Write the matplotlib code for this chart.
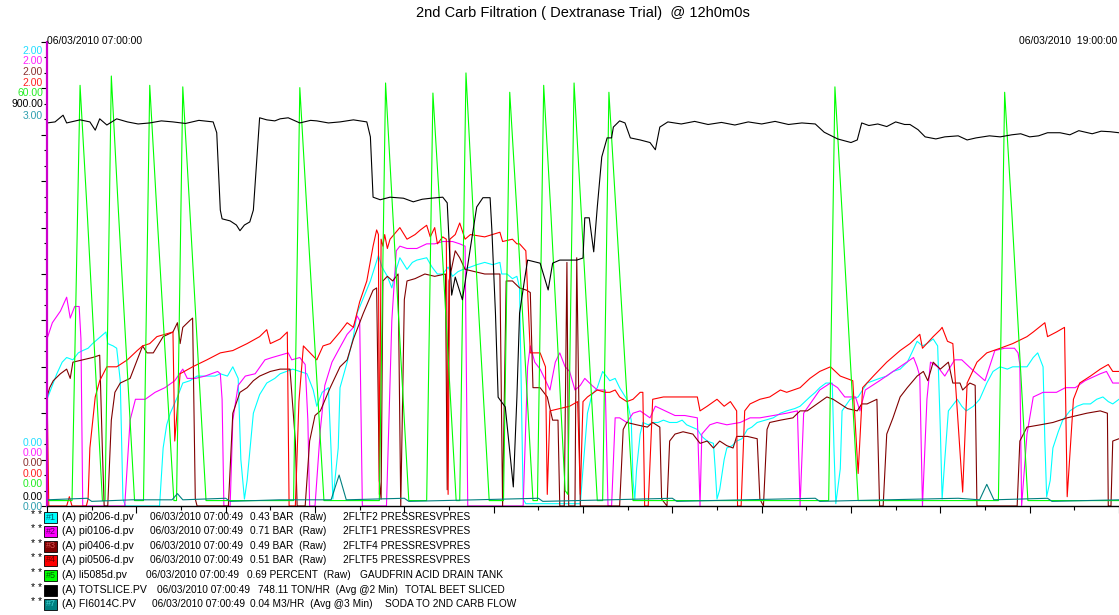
import numpy as np
import matplotlib
matplotlib.use("Agg")
import matplotlib.pyplot as plt
from matplotlib.patches import Rectangle
from matplotlib.ticker import MultipleLocator

plt.rcParams['font.family'] = ['Liberation Sans', 'DejaVu Sans']

W, H = 1119, 615

# time in hours after 06/03/2010 07:00:00, values in pen units
pi0206 = [(0.00,0.46),(0.06,0.52),(0.11,0.57),(0.17,0.62),(0.22,0.64),(0.29,0.63),(0.35,0.66),(0.40,0.67),(0.46,0.68),(0.51,0.70),(0.57,0.72),(0.63,0.74),(0.66,0.75),(0.68,0.70),(0.74,0.69),(0.78,0.68),(0.82,0.54),(0.85,0.03),(0.88,0.00),(1.26,0.00),(1.30,0.25),(1.34,0.35),(1.38,0.40),(1.46,0.47),(1.52,0.53),(1.60,0.54),(1.68,0.56),(1.79,0.56),(1.88,0.56),(1.94,0.57),(2.02,0.56),(2.08,0.60),(2.14,0.55),(2.17,0.20),(2.21,0.03),(2.24,0.11),(2.31,0.40),(2.38,0.48),(2.46,0.53),(2.55,0.55),(2.61,0.57),(2.75,0.59),(2.83,0.58),(2.91,0.57),(2.98,0.50),(3.02,0.43),(3.08,0.49),(3.15,0.51),(3.18,0.24),(3.20,0.03),(3.22,0.10),(3.26,0.25),(3.28,0.51),(3.36,0.62),(3.43,0.73),(3.47,0.83),(3.62,0.97),(3.71,1.08),(3.75,1.03),(3.81,0.99),(3.86,0.94),(3.91,1.02),(3.95,1.07),(4.03,1.02),(4.09,1.05),(4.14,1.06),(4.25,1.07),(4.31,1.03),(4.37,1.00),(4.43,1.00),(4.49,1.03),(4.54,0.99),(4.60,1.01),(4.66,1.02),(4.74,1.03),(4.81,1.04),(4.90,1.05),(4.99,1.04),(5.07,1.05),(5.09,1.00),(5.15,1.00),(5.21,0.98),(5.26,0.99),(5.29,0.94),(5.33,0.03),(5.36,0.01),(5.97,0.01),(6.00,0.16),(6.05,0.40),(6.10,0.48),(6.16,0.51),(6.22,0.58),(6.30,0.54),(6.36,0.55),(6.41,0.51),(6.49,0.46),(6.54,0.37),(6.56,0.11),(6.58,0.03),(6.60,0.16),(6.64,0.31),(6.67,0.36),(6.73,0.35),(6.78,0.36),(6.84,0.36),(6.90,0.37),(6.97,0.36),(7.05,0.36),(7.11,0.37),(7.16,0.35),(7.22,0.34),(7.28,0.33),(7.33,0.30),(7.39,0.28),(7.46,0.27),(7.48,0.16),(7.50,0.03),(7.53,0.07),(7.58,0.20),(7.61,0.25),(7.67,0.26),(7.72,0.28),(7.78,0.29),(7.84,0.33),(7.89,0.34),(7.95,0.36),(8.04,0.37),(8.13,0.38),(8.21,0.40),(8.28,0.41),(8.37,0.42),(8.43,0.43),(8.54,0.47),(8.60,0.49),(8.65,0.51),(8.72,0.53),(8.79,0.53),(8.81,0.24),(8.83,0.01),(8.88,0.16),(8.90,0.41),(8.99,0.46),(9.08,0.47),(9.13,0.50),(9.18,0.53),(9.25,0.54),(9.32,0.55),(9.40,0.56),(9.47,0.58),(9.55,0.59),(9.63,0.62),(9.68,0.66),(9.74,0.71),(9.80,0.69),(9.85,0.70),(9.92,0.72),(9.97,0.69),(10.00,0.33),(10.02,0.03),(10.05,0.20),(10.09,0.41),(10.19,0.46),(10.24,0.43),(10.29,0.41),(10.37,0.43),(10.44,0.46),(10.52,0.53),(10.59,0.58),(10.67,0.60),(10.75,0.59),(10.81,0.60),(10.89,0.60),(10.97,0.60),(11.04,0.64),(11.09,0.66),(11.15,0.60),(11.17,0.28),(11.19,0.04),(11.23,0.11),(11.26,0.25),(11.32,0.32),(11.37,0.37),(11.45,0.41),(11.53,0.43),(11.60,0.44),(11.68,0.44),(11.75,0.46),(11.82,0.47),(11.88,0.45),(11.93,0.44),(12.00,0.46)]

pi0106 = [(0.00,0.72),(0.06,0.79),(0.15,0.84),(0.22,0.90),(0.26,0.81),(0.31,0.86),(0.36,0.86),(0.38,0.72),(0.40,0.00),(0.87,0.00),(0.93,0.37),(0.99,0.46),(1.10,0.46),(1.21,0.49),(1.32,0.51),(1.43,0.54),(1.52,0.59),(1.57,0.55),(1.66,0.55),(1.77,0.56),(1.91,0.58),(1.94,0.57),(1.96,0.46),(1.98,0.00),(2.05,0.00),(2.08,0.37),(2.14,0.52),(2.22,0.56),(2.33,0.57),(2.44,0.63),(2.52,0.64),(2.61,0.65),(2.70,0.66),(2.74,0.63),(2.83,0.64),(2.89,0.61),(2.92,0.37),(2.94,0.00),(3.00,0.00),(3.06,0.33),(3.11,0.52),(3.19,0.62),(3.26,0.67),(3.36,0.74),(3.43,0.77),(3.47,0.82),(3.50,0.80),(3.53,0.00),(3.80,0.00),(3.86,0.80),(3.91,1.10),(3.95,1.12),(4.03,1.11),(4.14,1.11),(4.25,1.13),(4.34,1.13),(4.43,1.14),(4.54,1.14),(4.62,1.13),(4.68,1.12),(4.71,0.00),(5.33,0.00),(5.38,0.60),(5.41,0.69),(5.46,0.62),(5.52,0.59),(5.57,0.55),(5.63,0.50),(5.69,0.62),(5.74,0.66),(5.80,0.60),(5.85,0.58),(5.91,0.50),(5.97,0.52),(6.02,0.55),(6.10,0.52),(6.16,0.50),(6.20,0.50),(6.25,0.50),(6.28,0.00),(6.32,0.00),(6.36,0.38),(6.41,0.38),(6.49,0.36),(6.56,0.40),(6.64,0.41),(6.75,0.38),(6.81,0.43),(6.92,0.41),(7.03,0.39),(7.14,0.39),(7.28,0.38),(7.31,0.00),(7.33,0.31),(7.42,0.35),(7.50,0.36),(7.61,0.35),(7.76,0.36),(7.87,0.38),(7.98,0.38),(8.13,0.39),(8.28,0.40),(8.40,0.41),(8.43,0.00),(8.47,0.40),(8.56,0.45),(8.65,0.50),(8.77,0.53),(8.85,0.51),(8.93,0.47),(9.05,0.47),(9.10,0.41),(9.16,0.50),(9.32,0.54),(9.51,0.59),(9.70,0.64),(9.74,0.60),(9.77,0.56),(9.80,0.00),(9.85,0.46),(9.89,0.62),(9.97,0.60),(10.05,0.56),(10.16,0.63),(10.24,0.63),(10.35,0.59),(10.50,0.54),(10.61,0.67),(10.72,0.68),(10.83,0.68),(10.87,0.66),(10.89,0.61),(10.91,0.00),(10.97,0.31),(11.04,0.47),(11.15,0.49),(11.30,0.49),(11.40,0.51),(11.51,0.51),(11.62,0.54),(11.79,0.57),(11.86,0.58),(11.93,0.53),(12.00,0.53)]

pi0406 = [(0.00,0.47),(0.03,0.51),(0.07,0.54),(0.15,0.57),(0.22,0.59),(0.26,0.55),(0.29,0.62),(0.40,0.63),(0.51,0.64),(0.59,0.65),(0.62,0.24),(0.64,0.00),(0.68,0.00),(0.72,0.37),(0.76,0.49),(0.82,0.53),(0.93,0.55),(1.04,0.66),(1.07,0.69),(1.12,0.66),(1.19,0.66),(1.30,0.73),(1.41,0.75),(1.46,0.79),(1.49,0.70),(1.52,0.77),(1.60,0.80),(1.63,0.81),(1.66,0.03),(1.68,0.00),(2.03,0.00),(2.08,0.40),(2.16,0.49),(2.24,0.51),(2.31,0.54),(2.38,0.56),(2.50,0.58),(2.61,0.59),(2.72,0.59),(2.78,0.28),(2.80,0.00),(2.89,0.00),(2.94,0.28),(3.00,0.39),(3.06,0.41),(3.17,0.51),(3.28,0.60),(3.36,0.63),(3.43,0.72),(3.54,0.83),(3.65,0.93),(3.69,0.94),(3.72,0.11),(3.74,0.03),(3.76,0.97),(3.81,0.99),(3.87,0.97),(3.93,1.00),(3.96,0.00),(4.00,0.89),(4.03,0.97),(4.12,0.98),(4.23,1.00),(4.34,0.99),(4.46,1.00),(4.48,0.07),(4.50,0.97),(4.57,1.10),(4.62,1.07),(4.68,1.02),(4.79,1.01),(4.90,1.00),(5.02,1.00),(5.07,1.00),(5.10,0.00),(5.14,0.97),(5.21,0.97),(5.29,0.94),(5.37,0.93),(5.41,0.92),(5.44,0.51),(5.52,0.51),(5.60,0.47),(5.66,0.37),(5.72,0.37),(5.74,0.00),(5.79,0.00),(5.82,1.05),(5.84,0.00),(5.91,0.00),(5.93,1.07),(5.97,0.00),(6.41,0.00),(6.45,0.33),(6.49,0.36),(6.60,0.35),(6.72,0.34),(6.78,0.36),(6.86,0.34),(6.88,0.03),(6.94,0.00),(6.97,0.28),(7.03,0.31),(7.12,0.32),(7.23,0.31),(7.31,0.27),(7.39,0.28),(7.46,0.25),(7.53,0.28),(7.61,0.26),(7.68,0.25),(7.72,0.30),(7.84,0.30),(7.95,0.29),(7.98,0.03),(8.02,0.00),(8.06,0.33),(8.09,0.36),(8.21,0.37),(8.35,0.38),(8.43,0.41),(8.51,0.41),(8.62,0.44),(8.73,0.47),(8.80,0.46),(8.88,0.44),(8.96,0.42),(9.07,0.41),(9.12,0.44),(9.18,0.44),(9.29,0.46),(9.32,0.00),(9.36,0.00),(9.40,0.31),(9.47,0.38),(9.55,0.47),(9.63,0.51),(9.74,0.56),(9.81,0.58),(9.86,0.54),(9.92,0.62),(10.00,0.59),(10.09,0.62),(10.14,0.53),(10.22,0.53),(10.25,0.50),(10.33,0.53),(10.39,0.52),(10.41,0.00),(10.86,0.00),(10.89,0.28),(10.97,0.34),(11.12,0.35),(11.26,0.36),(11.42,0.38),(11.53,0.39),(11.64,0.40),(11.79,0.41),(11.87,0.40),(11.88,0.00),(11.91,0.00),(11.93,0.28),(12.00,0.29)]

pi0506 = [(0.00,0.51),(0.02,0.00),(0.22,0.00),(0.25,0.04),(0.28,0.00),(0.44,0.00),(0.46,0.03),(0.48,0.25),(0.54,0.47),(0.59,0.54),(0.67,0.60),(0.78,0.60),(0.90,0.63),(1.01,0.67),(1.07,0.69),(1.15,0.70),(1.23,0.73),(1.41,0.75),(1.43,0.28),(1.49,0.57),(1.63,0.60),(1.79,0.63),(1.94,0.66),(2.08,0.67),(2.24,0.70),(2.38,0.73),(2.46,0.76),(2.50,0.70),(2.61,0.72),(2.69,0.75),(2.71,0.00),(2.78,0.00),(2.82,0.45),(2.87,0.69),(3.02,0.63),(3.09,0.69),(3.17,0.70),(3.28,0.75),(3.36,0.79),(3.43,0.77),(3.50,0.88),(3.58,0.97),(3.65,1.12),(3.69,1.19),(3.71,1.17),(3.72,0.05),(3.74,1.15),(3.76,1.12),(3.78,1.17),(3.81,1.11),(3.84,1.15),(3.95,1.20),(4.03,1.15),(4.12,1.17),(4.18,1.19),(4.25,1.21),(4.29,1.16),(4.34,1.20),(4.37,1.13),(4.43,1.16),(4.47,1.15),(4.49,0.05),(4.51,1.15),(4.57,1.17),(4.62,1.22),(4.68,1.15),(4.74,1.17),(4.90,1.16),(5.07,1.18),(5.10,1.14),(5.21,1.15),(5.26,1.13),(5.29,1.13),(5.36,1.10),(5.41,0.66),(5.52,0.66),(5.58,0.60),(5.60,0.05),(5.63,0.41),(5.74,0.42),(5.85,0.43),(5.94,0.45),(5.97,0.05),(6.00,0.45),(6.05,0.47),(6.16,0.50),(6.25,0.49),(6.30,0.49),(6.36,0.50),(6.41,0.47),(6.49,0.45),(6.56,0.46),(6.64,0.49),(6.67,0.49),(6.69,0.00),(6.73,0.00),(6.78,0.46),(6.90,0.47),(7.05,0.47),(7.16,0.47),(7.28,0.47),(7.31,0.41),(7.39,0.43),(7.50,0.46),(7.58,0.43),(7.65,0.45),(7.72,0.41),(7.73,0.00),(7.77,0.00),(7.81,0.41),(7.87,0.44),(7.98,0.46),(8.09,0.47),(8.21,0.50),(8.28,0.49),(8.43,0.51),(8.54,0.55),(8.65,0.58),(8.77,0.60),(8.88,0.56),(9.02,0.54),(9.08,0.14),(9.13,0.51),(9.25,0.56),(9.40,0.62),(9.55,0.67),(9.66,0.70),(9.77,0.74),(9.80,0.68),(9.92,0.73),(10.00,0.76),(10.02,0.77),(10.08,0.71),(10.14,0.70),(10.25,0.06),(10.30,0.53),(10.41,0.62),(10.52,0.66),(10.67,0.68),(10.81,0.70),(10.97,0.73),(11.04,0.75),(11.17,0.79),(11.20,0.73),(11.30,0.75),(11.39,0.77),(11.42,0.04),(11.49,0.46),(11.56,0.53),(11.68,0.56),(11.79,0.59),(11.88,0.61),(11.93,0.58),(12.00,0.58)]

li5085 = [(0.00,0.7),(0.28,0.7),(0.37,54.4),(0.45,38.0),(0.62,0.7),(0.65,0.7),(0.72,55.6),(0.80,38.0),(0.98,0.7),(1.08,0.7),(1.15,54.4),(1.23,38.0),(1.42,0.7),(1.45,0.7),(1.52,54.2),(1.60,38.0),(1.78,0.7),(2.76,0.7),(2.83,54.1),(2.91,38.0),(3.10,0.7),(3.72,0.7),(3.79,54.7),(3.87,38.0),(4.05,0.7),(4.25,0.7),(4.32,53.4),(4.40,38.0),(4.58,0.7),(4.62,0.7),(4.69,56.0),(4.77,38.0),(4.95,0.7),(5.11,0.7),(5.18,53.5),(5.26,38.0),(5.44,0.7),(5.49,0.7),(5.56,54.4),(5.64,38.0),(5.80,2.0),(5.83,1.5),(5.90,54.7),(5.98,38.0),(6.16,0.7),(6.22,0.7),(6.29,53.5),(6.37,38.0),(6.56,0.7),(8.75,0.7),(8.82,54.2),(8.90,38.0),(9.08,0.7),(10.65,0.7),(10.72,53.5),(10.80,38.0),(10.98,0.7),(12.00,0.7)]

totslice = [(0.00,743),(0.09,745),(0.18,758),(0.22,743),(0.37,749),(0.48,745),(0.54,729),(0.59,751),(0.67,739),(0.78,751),(0.90,745),(1.02,741),(1.15,743),(1.28,747),(1.41,745),(1.55,742),(1.70,748),(1.86,745),(1.90,724),(1.94,574),(1.96,557),(2.05,553),(2.12,545),(2.16,534),(2.21,545),(2.27,551),(2.31,574),(2.38,753),(2.46,749),(2.55,747),(2.61,751),(2.70,753),(2.83,743),(2.95,748),(3.02,747),(3.15,743),(3.28,745),(3.43,749),(3.58,745),(3.62,716),(3.65,599),(3.73,594),(3.84,599),(3.99,597),(4.10,590),(4.20,595),(4.30,597),(4.43,599),(4.48,588),(4.53,409),(4.57,444),(4.65,400),(4.74,502),(4.81,580),(4.88,598),(4.96,598),(4.98,535),(5.02,374),(5.05,211),(5.13,192),(5.22,37),(5.26,211),(5.29,374),(5.35,444),(5.38,477),(5.52,471),(5.61,419),(5.66,471),(5.74,477),(5.93,477),(6.00,481),(6.02,559),(6.07,559),(6.12,493),(6.16,580),(6.21,677),(6.27,714),(6.32,714),(6.34,735),(6.41,747),(6.47,743),(6.53,714),(6.64,710),(6.75,705),(6.81,691),(6.86,735),(6.95,745),(7.10,741),(7.25,746),(7.40,740),(7.55,744),(7.70,739),(7.85,745),(8.00,741),(8.15,746),(8.30,740),(8.45,743),(8.60,741),(8.70,725),(8.85,712),(9.00,705),(9.07,710),(9.12,743),(9.20,738),(9.30,741),(9.40,736),(9.50,745),(9.60,740),(9.66,740),(9.75,730),(9.83,716),(9.95,712),(10.05,716),(10.20,718),(10.30,710),(10.40,714),(10.55,718),(10.67,716),(10.80,720),(10.90,722),(11.00,716),(11.10,718),(11.20,724),(11.34,724),(11.45,720),(11.55,728),(11.70,722),(11.80,727),(11.90,726),(12.00,724)]

fi6014c = [(0.00,0.04),(0.45,0.05),(0.50,0.03),(0.95,0.04),(1.40,0.04),(1.46,0.08),(1.52,0.04),(2.00,0.05),(2.05,0.03),(2.60,0.04),(3.18,0.04),(3.27,0.20),(3.35,0.04),(4.00,0.05),(4.05,0.03),(4.80,0.04),(5.50,0.05),(5.55,0.03),(6.30,0.04),(7.00,0.05),(7.05,0.03),(7.80,0.04),(8.60,0.05),(8.65,0.03),(9.40,0.04),(10.20,0.05),(10.44,0.04),(10.52,0.14),(10.60,0.04),(11.20,0.05),(11.25,0.03),(12.00,0.04)]

pens = [pi0206, pi0106, pi0406, pi0506, li5085, totslice, fi6014c]
scale_top = [2.0, 2.0, 2.0, 2.0, 60.0, 900.0, 3.0]
top_labels = ['2.00', '2.00', '2.00', '2.00', '60.00', '900.00', '3.00']
bottom_labels = ['0.00'] * 7
colors = ['#00FFFF', '#FF00FF', '#800000', '#FF0000', '#00FF00', '#000000', '#008080']
label_colors = ['#22DDFF', '#FF22FF', '#8B3030', '#FF2020', '#22EE22', '#000000', '#2F9FAF']

tags = ['(A) pi0206-d.pv', '(A) pi0106-d.pv', '(A) pi0406-d.pv', '(A) pi0506-d.pv',
        '(A) li5085d.pv', '(A) TOTSLICE.PV', '(A) FI6014C.PV']
stamp = '06/03/2010 07:00:49'
readings = ['0.43 BAR  (Raw)', '0.71 BAR  (Raw)', '0.49 BAR  (Raw)', '0.51 BAR  (Raw)',
            '0.69 PERCENT  (Raw)', '748.11 TON/HR  (Avg @2 Min)', '0.04 M3/HR  (Avg @3 Min)']
descs = ['2FLTF2 PRESSRESVPRES', '2FLTF1 PRESSRESVPRES', '2FLTF4 PRESSRESVPRES',
         '2FLTF5 PRESSRESVPRES', 'GAUDFRIN ACID DRAIN TANK', 'TOTAL BEET SLICED',
         'SODA TO 2ND CARB FLOW']
swatch_text = ['#1', '#2', '#3', '#4', '#5', '', '#7']
swatch_ink = ['#006070', '#600060', '#D05050', '#700000', '#006000', '#000000', '#40D0D0']

fig = plt.figure(figsize=(W / 100, H / 100), dpi=100)
left, bottom, top = 47, 506, 42
ax = fig.add_axes([left / W, 1 - bottom / H, (W - left) / W, (bottom - top) / H])

# every pen has its own 0..top range, drawn in the shared frame
for data, top_v, c in zip(pens, scale_top, colors):
    arr = np.array(data, dtype=float)
    ax.plot(arr[:, 0], arr[:, 1] / top_v, color=c, lw=0.8)

ax.set_xlim(0, 12)
ax.set_ylim(0, 1)
for s in ['top', 'right']:
    ax.spines[s].set_visible(False)
ax.spines['left'].set_color('#CC00CC')
ax.spines['left'].set_linewidth(1.6)
ax.spines['bottom'].set_linewidth(1.0)
ax.xaxis.set_major_locator(MultipleLocator(1))
ax.xaxis.set_minor_locator(MultipleLocator(0.5))
ax.yaxis.set_major_locator(MultipleLocator(0.1))
ax.yaxis.set_minor_locator(MultipleLocator(0.1 / 3))
ax.tick_params(axis='x', which='major', direction='out', length=5, width=0.8, labelbottom=False)
ax.tick_params(axis='x', which='minor', direction='out', length=3, width=0.8)
ax.tick_params(axis='y', which='major', direction='out', length=4, width=0.8, labelleft=False)
ax.tick_params(axis='y', which='minor', direction='out', length=2, width=0.8)

# stacked scale labels at the top and bottom of the pen ranges
top_y = [51, 61, 72, 83, 93, 104, 116]
bot_y = [443, 453, 463, 474, 484, 497, 507]
for i in range(7):
    fig.text(43 / W, 1 - top_y[i] / H, top_labels[i], color=label_colors[i],
             ha='right', va='center', fontsize=7.5)
    fig.text(43 / W, 1 - bot_y[i] / H, bottom_labels[i], color=label_colors[i],
             ha='right', va='center', fontsize=7.5)

fig.text(583 / W, 1 - 13 / H, '2nd Carb Filtration ( Dextranase Trial)  @ 12h0m0s',
         ha='center', va='center', fontsize=10.5)
fig.text(47 / W, 1 - 41 / H, '06/03/2010 07:00:00', ha='left', va='center', fontsize=7.5)
fig.text(1117 / W, 1 - 41 / H, '06/03/2010  19:00:00', ha='right', va='center', fontsize=7.5)

# pen legend under the chart
row_y = [517, 531, 546, 560, 575, 590, 604]
stamp_x = [150, 150, 150, 150, 146, 157, 152]
read_x = [250, 250, 250, 250, 247, 258, 250]
desc_x = [343, 343, 343, 343, 360, 405, 385]
for i in range(7):
    y = 1 - row_y[i] / H
    fig.text(42 / W, y + 2 / H, '* *', ha='right', va='center', fontsize=7.5)
    fig.patches.append(Rectangle((44 / W, y - 5.5 / H), 13 / W, 11 / H,
                                 transform=fig.transFigure, facecolor=colors[i],
                                 edgecolor='black', lw=0.6))
    fig.text(50.5 / W, y, swatch_text[i], ha='center', va='center', fontsize=6.5,
             color=swatch_ink[i])
    fig.text(62 / W, y, tags[i], ha='left', va='center', fontsize=7.6)
    fig.text(stamp_x[i] / W, y, stamp, ha='left', va='center', fontsize=7.3)
    fig.text(read_x[i] / W, y, readings[i], ha='left', va='center', fontsize=7.3)
    fig.text(desc_x[i] / W, y, descs[i], ha='left', va='center', fontsize=7.3)

fig.savefig('out.png', dpi=100, facecolor='white')
